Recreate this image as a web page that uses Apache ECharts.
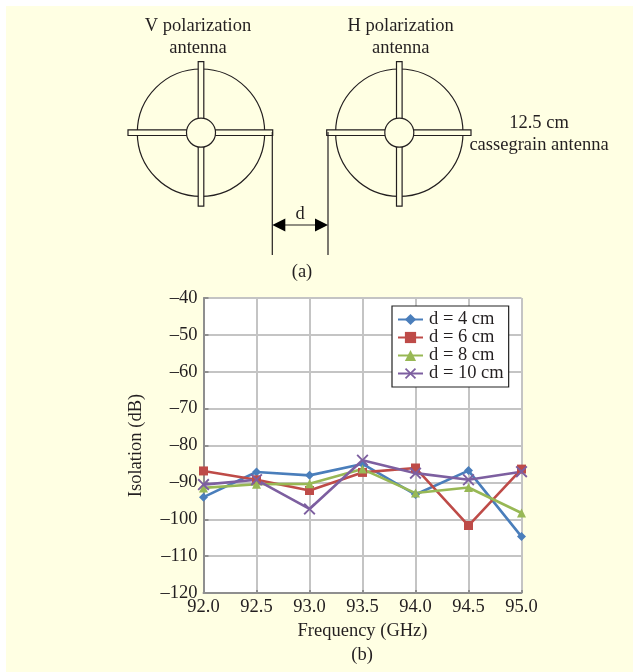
<!DOCTYPE html>
<html><head><meta charset="utf-8">
<style>html,body{margin:0;padding:0;background:#fff}#c{width:633px;height:672px}</style>
<script src="https://cdn.jsdelivr.net/npm/echarts@6/dist/echarts.min.js"></script>
</head><body><div id="c"></div>
<script>
var frequencies = ['92.0','92.5','93.0','93.5','94.0','94.5','95.0'];
var d4 = [-94, -87.2, -88.1, -85, -93.3, -86.8, -104.7];
var d6 = [-86.9, -89.3, -92.2, -87.3, -86.1, -101.7, -86.4];
var d8 = [-91.5, -90.5, -90.4, -86.4, -92.9, -91.4, -98.3];
var d10 = [-90.6, -89.3, -97.2, -84, -87.5, -89.3, -87.1];
var FONT = '"Liberation Serif"', INK = '#231f20', FS = 18.5;
function txt(x, y, s) {
  return {type:'text', silent:true, z:10, style:{x:x, y:y, text:s, font:FS+'px '+FONT, fill:INK, align:'center', verticalAlign:'middle'}};
}
function ln(x1,y1,x2,y2,w){return {type:'line', z:6, silent:true, shape:{x1:x1,y1:y1,x2:x2,y2:y2}, style:{stroke:INK, lineWidth:w||1.2}};}
function antenna(cx, cy, left, right) {
  var st = {stroke:INK, lineWidth:1.2, fill:'#FFFFE3'};
  return [
    {type:'circle', z:5, silent:true, shape:{cx:cx,cy:cy,r:63.7}, style:{stroke:INK,lineWidth:1.2,fill:'transparent'}},
    {type:'rect', z:6, silent:true, shape:{x:cx-2.8,y:61.7,width:5.6,height:144.5}, style:st},
    {type:'rect', z:6, silent:true, shape:{x:left,y:cy-2.8,width:right-left,height:5.6}, style:st},
    {type:'circle', z:7, silent:true, shape:{cx:cx,cy:cy,r:14.5}, style:st}
  ];
}
function arrow(tipX, dir, y) {
  return {type:'polygon', z:7, silent:true, shape:{points:[[tipX,y],[tipX+dir*13,y-6.5],[tipX+dir*13,y+6.5]]}, style:{fill:'#000'}};
}
var graphics = [
  {type:'rect', z:-1, silent:true, shape:{x:6,y:6,width:627,height:666}, style:{fill:'#FFFFE3'}}
].concat(antenna(201,132.7,128,272.7), antenna(399.3,132.7,326.7,471), [
  ln(272.3,132,272.3,255), ln(328,132,328,255), ln(280,225,320,225),
  arrow(272.3,1,225), arrow(328,-1,225),
  txt(198,26.5,'V polarization'), txt(198,48.5,'antenna'),
  txt(400.7,26.5,'H polarization'), txt(400.7,48.5,'antenna'),
  txt(539,123.5,'12.5 cm'), txt(539,145.5,'cassegrain antenna'),
  txt(300,214,'d'), txt(302,272.5,'(a)'), txt(362,655,'(b)')
]);
function series(name, data, color, symbol, size) {
  return {name:name, type:'line', data:data, symbol:symbol, symbolSize:size, showSymbol:true,
    lineStyle:{color:color,width:2.6}, itemStyle:{color:color}, animation:false, z:3};
}
var X = 'path://M-1,-0.78 L-0.78,-1 L0,-0.22 L0.78,-1 L1,-0.78 L0.22,0 L1,0.78 L0.78,1 L0,0.22 L-0.78,1 L-1,0.78 L-0.22,0 Z';
var chart = echarts.init(document.getElementById('c'), null, {renderer:'canvas'});
chart.setOption({
  animation:false,
  backgroundColor:'#fff',
  textStyle:{fontFamily:FONT},
  graphic:graphics,
  grid:{left:203.5, top:298, width:318, height:295, backgroundColor:'#fff', show:true, borderWidth:0},
  legend:{
    orient:'vertical', left:392, top:306, itemWidth:25, itemHeight:14, itemGap:-1,
    padding:[4,5,4,5], backgroundColor:'#fff', borderColor:'#222', borderWidth:1.2,
    textStyle:{fontFamily:FONT,fontSize:FS,color:INK,lineHeight:14,padding:[0,0,0,1]},
    data:['d = 4 cm','d = 6 cm','d = 8 cm','d = 10 cm']
  },
  xAxis:{type:'category', boundaryGap:false, data:frequencies, name:'Frequency (GHz)', nameLocation:'middle', nameGap:29,
    nameTextStyle:{fontFamily:FONT,fontSize:FS,color:INK},
    axisLine:{lineStyle:{color:'#8f8f8f',width:2}}, axisTick:{show:true,length:3,inside:true,lineStyle:{color:'#8f8f8f',width:2}},
    axisLabel:{fontFamily:FONT,fontSize:FS,color:INK,margin:5,showMinLabel:true,showMaxLabel:true,hideOverlap:false,interval:0},
    splitLine:{show:true,lineStyle:{color:'#c4c4c4',width:2}}},
  yAxis:{type:'value', min:-120, max:-40, interval:10, name:'Isolation (dB)', nameLocation:'middle', nameGap:58,
    nameTextStyle:{fontFamily:FONT,fontSize:FS,color:INK},
    axisLine:{show:true,lineStyle:{color:'#8f8f8f',width:2}}, axisTick:{show:true,length:5,inside:true,lineStyle:{color:'#8f8f8f',width:2}},
    axisLabel:{fontFamily:FONT,fontSize:FS,color:INK,margin:6,padding:[2,0,0,0],formatter:function(v){return String(v).replace('-','\u2013');}},
    splitLine:{show:true,lineStyle:{color:'#c4c4c4',width:2}}},
  series:[
    series('d = 4 cm', d4, '#4a7ebb', 'diamond', 9),
    series('d = 6 cm', d6, '#be4b48', 'rect', 9),
    series('d = 8 cm', d8, '#98b855', 'triangle', 9),
    series('d = 10 cm', d10, '#7d5fa0', X, 12)
  ]
});
</script></body></html>
